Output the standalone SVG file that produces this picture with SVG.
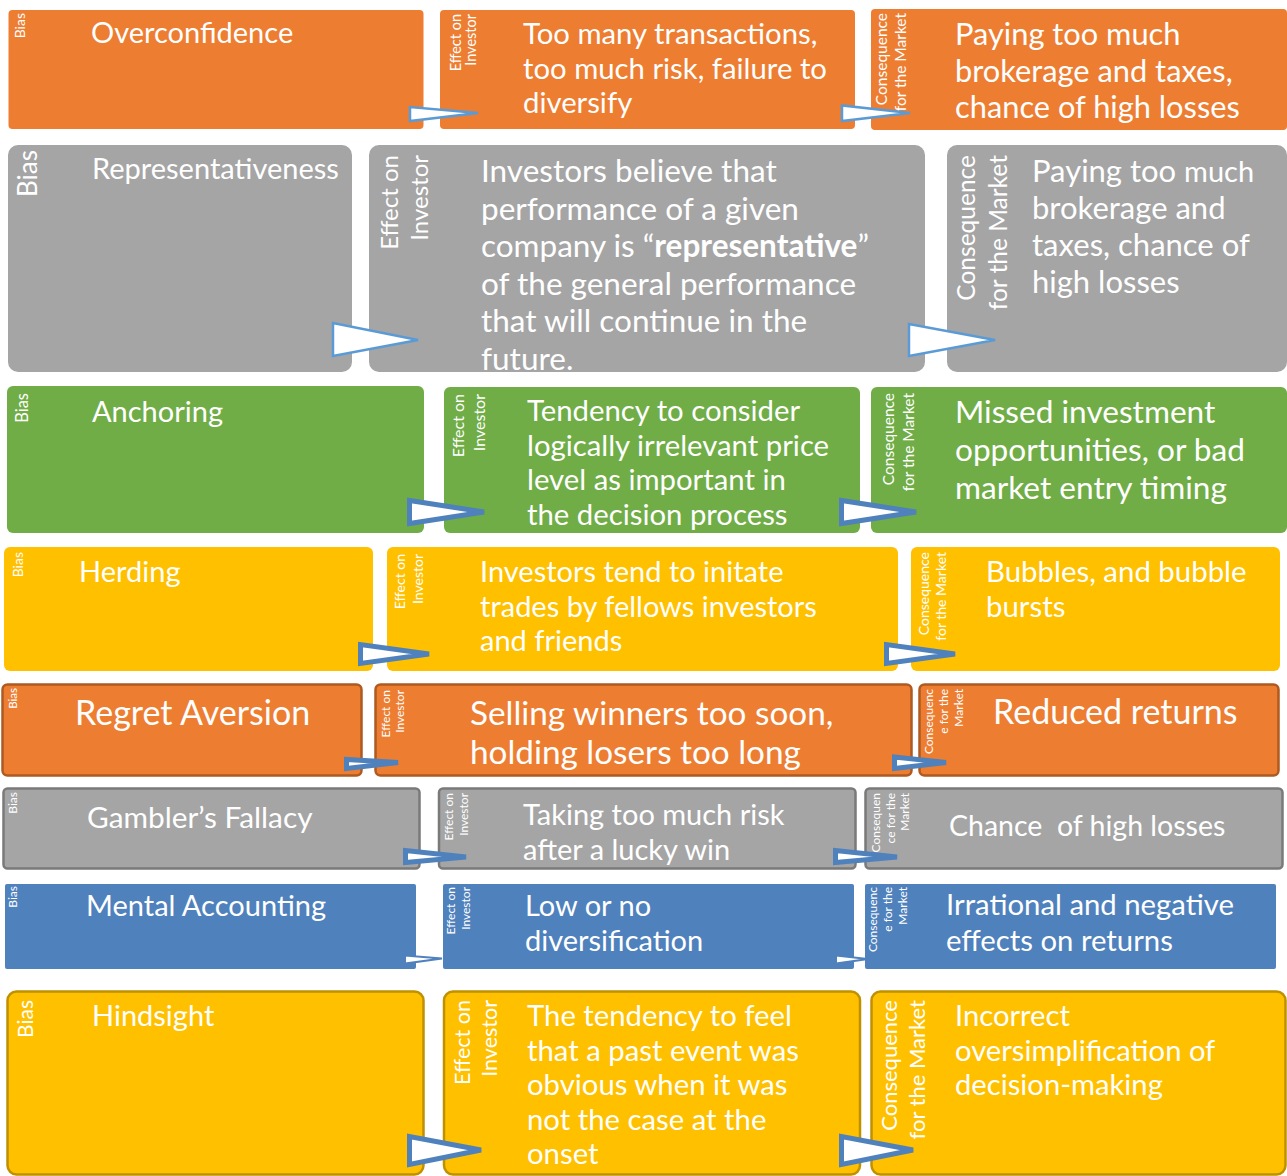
<svg xmlns="http://www.w3.org/2000/svg" width="1287" height="1176" viewBox="0 0 1287 1176">
<style>
  text { font-family: Lato, "Liberation Sans", sans-serif; fill: #ffffff; }
  .v { text-anchor: end; }
  .orange { fill: #ED7D31; }
  .grey { fill: #A5A5A5; }
  .green { fill: #70AD47; }
  .gold { fill: #FFC000; }
  .blue { fill: #4F81BD; }
  .b-orange { stroke: #AE5A21; stroke-width: 2.5; }
  .b-grey { stroke: #7A7A7A; stroke-width: 2.5; }
  .b-gold { stroke: #BF9000; stroke-width: 2.5; }
  .arr { fill: #ffffff; stroke-linejoin: miter; }
  .a1 { stroke: #5B9BD5; stroke-width: 2.5; }
  .a2 { stroke: #4F81BD; stroke-width: 5; }
  .a3 { stroke: #4F81BD; stroke-width: 2; }
</style>
<rect width="1287" height="1176" fill="#ffffff"/>

<!-- Row 1: Overconfidence -->
<g id="bias-overconfidence">
  <rect class="orange" x="8.5" y="10" width="415" height="119" rx="4"/>
  <text class="v" font-size="14" transform="translate(25,13) rotate(-90)">Bias</text>
  <text x="91" y="43" font-size="29">Overconfidence</text>
</g>
<g id="effect-overconfidence">
  <rect class="orange" x="440" y="10" width="415" height="119" rx="4"/>
  <text class="v" font-size="14.5" transform="translate(461,14) rotate(-90)"><tspan x="0" y="0">Effect on</tspan><tspan x="0" dy="14.5">Investor</tspan></text>
  <text x="523" y="44" font-size="29.3">Too many transactions,<tspan x="523" dy="34.5">too much risk, failure to</tspan><tspan x="523" dy="34.5">diversify</tspan></text>
</g>
<g id="consequence-overconfidence">
  <rect class="orange" x="871" y="9" width="416" height="121" rx="4"/>
  <text class="v" font-size="15.5" transform="translate(887,13) rotate(-90)"><tspan x="0" y="0">Consequence</tspan><tspan x="0" dy="19">for the Market</tspan></text>
  <text x="955" y="45" font-size="30.8">Paying too much<tspan x="955" dy="36.5">brokerage and taxes,</tspan><tspan x="955" dy="36.5">chance of high losses</tspan></text>
</g>

<!-- Row 2: Representativeness -->
<g id="bias-representativeness">
  <rect class="grey" x="8" y="145" width="344" height="227" rx="10"/>
  <text class="v" font-size="26" transform="translate(37,150) rotate(-90)">Bias</text>
  <text x="92" y="179" font-size="29">Representativeness</text>
</g>
<g id="effect-representativeness">
  <rect class="grey" x="369" y="145" width="556" height="227" rx="10"/>
  <text class="v" font-size="24" transform="translate(398,155) rotate(-90)"><tspan x="0" y="0">Effect on</tspan><tspan x="0" dy="30">Investor</tspan></text>
  <text x="481" y="182" font-size="31.5">Investors believe that<tspan x="481" dy="37.5">performance of a given</tspan><tspan x="481" dy="37.5">company is “<tspan font-weight="bold">representative</tspan>”</tspan><tspan x="481" dy="37.5">of the general performance</tspan><tspan x="481" dy="37.5">that will continue in the</tspan><tspan x="481" dy="37.5">future.</tspan></text>
</g>
<g id="consequence-representativeness">
  <rect class="grey" x="947" y="145" width="340" height="227" rx="10"/>
  <text class="v" font-size="24.5" transform="translate(975,155) rotate(-90)"><tspan x="0" y="0">Consequence</tspan><tspan x="0" dy="32">for the Market</tspan></text>
  <text x="1032" y="182" font-size="31">Paying too <tspan font-size="29">much</tspan><tspan x="1032" dy="37">brokerage and</tspan><tspan x="1032" dy="37">taxes, chance of</tspan><tspan x="1032" dy="37">high losses</tspan></text>
</g>

<!-- Row 3: Anchoring -->
<g id="bias-anchoring">
  <rect class="green" x="7" y="386" width="417" height="147" rx="6"/>
  <text class="v" font-size="16.5" transform="translate(28,393) rotate(-90)">Bias</text>
  <text x="92" y="422" font-size="29">Anchoring</text>
</g>
<g id="effect-anchoring">
  <rect class="green" x="444" y="387" width="416" height="146" rx="6"/>
  <text class="v" font-size="16" transform="translate(464,394) rotate(-90)"><tspan x="0" y="0">Effect on</tspan><tspan x="0" dy="21">Investor</tspan></text>
  <text x="527" y="421" font-size="29.3">Tendency to consider<tspan x="527" dy="34.7">logically irrelevant price</tspan><tspan x="527" dy="34.7">level as important in</tspan><tspan x="527" dy="34.7">the decision process</tspan></text>
</g>
<g id="consequence-anchoring">
  <rect class="green" x="871" y="387" width="416" height="146" rx="6"/>
  <text class="v" font-size="15.5" transform="translate(894,393) rotate(-90)"><tspan x="0" y="0">Consequence</tspan><tspan x="0" dy="20">for the Market</tspan></text>
  <text x="955" y="423" font-size="31.6">Missed investment<tspan x="955" dy="38">opportunities, or bad</tspan><tspan x="955" dy="38">market entry timing</tspan></text>
</g>

<!-- Row 4: Herding -->
<g id="bias-herding">
  <rect class="gold" x="4" y="547" width="369" height="124" rx="6"/>
  <text class="v" font-size="14" transform="translate(23,552) rotate(-90)">Bias</text>
  <text x="79" y="582" font-size="29">Herding</text>
</g>
<g id="effect-herding">
  <rect class="gold" x="387" y="547" width="511" height="124" rx="6"/>
  <text class="v" font-size="14" transform="translate(405,554) rotate(-90)"><tspan x="0" y="0">Effect on</tspan><tspan x="0" dy="18">Investor</tspan></text>
  <text x="480" y="582" font-size="29">Investors tend to initate<tspan x="480" dy="34.5">trades by fellows investors</tspan><tspan x="480" dy="34.5">and friends</tspan></text>
</g>
<g id="consequence-herding">
  <rect class="gold" x="911" y="547" width="369" height="124" rx="6"/>
  <text class="v" font-size="14" transform="translate(929,552) rotate(-90)"><tspan x="0" y="0">Consequence</tspan><tspan x="0" dy="17">for the Market</tspan></text>
  <text x="986" y="582" font-size="29.4">Bubbles, and bubble<tspan x="986" dy="34.5">bursts</tspan></text>
</g>

<!-- Row 5: Regret Aversion -->
<g id="bias-regret-aversion">
  <rect class="orange b-orange" x="2.5" y="684.5" width="359" height="91" rx="5"/>
  <text class="v" font-size="11.5" transform="translate(17,688) rotate(-90)">Bias</text>
  <text x="75" y="725" font-size="34">Regret Aversion</text>
</g>
<g id="effect-regret-aversion">
  <rect class="orange b-orange" x="375.5" y="684.5" width="536" height="91" rx="5"/>
  <text class="v" font-size="12" transform="translate(390,690) rotate(-90)"><tspan x="0" y="0">Effect on</tspan><tspan x="0" dy="14">Investor</tspan></text>
  <text x="470" y="725" font-size="33.3">Selling winners too soon,<tspan x="470" dy="39">holding losers too long</tspan></text>
</g>
<g id="consequence-regret-aversion">
  <rect class="orange b-orange" x="919.5" y="684.5" width="359" height="91" rx="5"/>
  <text class="v" font-size="12" transform="translate(933,689) rotate(-90)"><tspan x="0" y="0">Consequenc</tspan><tspan x="0" dy="15">e for the</tspan><tspan x="0" dy="15">Market</tspan></text>
  <text x="993" y="724" font-size="34">Reduced returns</text>
</g>

<!-- Row 6: Gambler's Fallacy -->
<g id="bias-gamblers-fallacy">
  <rect class="grey b-grey" x="3.5" y="788.5" width="416" height="80" rx="4"/>
  <text class="v" font-size="12" transform="translate(17,792) rotate(-90)">Bias</text>
  <text x="87" y="828" font-size="29.8">Gambler’s Fallacy</text>
</g>
<g id="effect-gamblers-fallacy">
  <rect class="grey b-grey" x="439" y="788.5" width="416.5" height="80" rx="4"/>
  <text class="v" font-size="12" transform="translate(453,793) rotate(-90)"><tspan x="0" y="0">Effect on</tspan><tspan x="0" dy="15">Investor</tspan></text>
  <text x="523" y="825" font-size="29">Taking too much risk<tspan x="523" dy="35">after a lucky win</tspan></text>
</g>
<g id="consequence-gamblers-fallacy">
  <rect class="grey b-grey" x="865.5" y="788.5" width="417" height="80" rx="4"/>
  <text class="v" font-size="12" transform="translate(880,793) rotate(-90)"><tspan x="0" y="0">Consequen</tspan><tspan x="0" dy="14.5">ce for the</tspan><tspan x="0" dy="14.5">Market</tspan></text>
  <text x="949" y="836" font-size="28.5" xml:space="preserve">Chance  of high losses</text>
</g>

<!-- Row 7: Mental Accounting -->
<g id="bias-mental-accounting">
  <rect class="blue" x="5" y="884" width="411" height="85" rx="2"/>
  <text class="v" font-size="12" transform="translate(17,886) rotate(-90)">Bias</text>
  <text x="86" y="916" font-size="29">Mental Accounting</text>
</g>
<g id="effect-mental-accounting">
  <rect class="blue" x="443" y="884" width="411" height="85" rx="2"/>
  <text class="v" font-size="12" transform="translate(455,887) rotate(-90)"><tspan x="0" y="0">Effect on</tspan><tspan x="0" dy="15">Investor</tspan></text>
  <text x="525" y="916" font-size="29">Low or no<tspan x="525" dy="35">diversification</tspan></text>
</g>
<g id="consequence-mental-accounting">
  <rect class="blue" x="865" y="884" width="411" height="85" rx="2"/>
  <text class="v" font-size="12" transform="translate(877,887) rotate(-90)"><tspan x="0" y="0">Consequenc</tspan><tspan x="0" dy="15">e for the</tspan><tspan x="0" dy="15">Market</tspan></text>
  <text x="946" y="915" font-size="29.3">Irrational and negative<tspan x="946" dy="36">effects on returns</tspan></text>
</g>

<!-- Row 8: Hindsight -->
<g id="bias-hindsight">
  <rect class="gold b-gold" x="7.5" y="991.5" width="416" height="183" rx="9"/>
  <text class="v" font-size="21" transform="translate(33,1000) rotate(-90)">Bias</text>
  <text x="92" y="1026" font-size="29">Hindsight</text>
</g>
<g id="effect-hindsight">
  <rect class="gold b-gold" x="444" y="991.5" width="416" height="183" rx="9"/>
  <text class="v" font-size="21.5" transform="translate(470,1000) rotate(-90)"><tspan x="0" y="0">Effect on</tspan><tspan x="0" dy="27">Investor</tspan></text>
  <text x="527" y="1026" font-size="29.3">The tendency to feel<tspan x="527" dy="34.5">that a past event was</tspan><tspan x="527" dy="34.5">obvious when it was</tspan><tspan x="527" dy="34.5">not the case at the</tspan><tspan x="527" dy="34.5">onset</tspan></text>
</g>
<g id="consequence-hindsight">
  <rect class="gold b-gold" x="871.5" y="991.5" width="414" height="183" rx="9"/>
  <text class="v" font-size="22" transform="translate(897,1000) rotate(-90)"><tspan x="0" y="0">Consequence</tspan><tspan x="0" dy="28">for the Market</tspan></text>
  <text x="955" y="1026" font-size="29.2">Incorrect<tspan x="955" dy="34.5">oversimplification of</tspan><tspan x="955" dy="34.5">decision-making</tspan></text>
</g>

<!-- Connectors: arrowheads linking bias → effect → consequence -->
<g id="connectors">
  <polygon class="arr a1" points="410,107 410,121 478,113"/>
  <polygon class="arr a1" points="842,105.5 842,121 910,113"/>
  <polygon class="arr a1" points="333,323 333,356 418,340"/>
  <polygon class="arr a1" points="909,324 909,356 995,340"/>
  <polygon class="arr a2" points="409.5,500.5 409.5,523.5 484,512"/>
  <polygon class="arr a2" points="841.5,500.5 841.5,523.5 916,512"/>
  <polygon class="arr a2" points="360.5,644.5 360.5,663.5 429,654"/>
  <polygon class="arr a2" points="886.5,644.5 886.5,663.5 955,654"/>
  <polygon class="arr a2" points="346.5,759.5 346.5,768.5 398,762.5"/>
  <polygon class="arr a2" points="894.5,757 894.5,768.5 946,762.5"/>
  <polygon class="arr a2" points="405.5,850.5 405.5,862.5 466,857"/>
  <polygon class="arr a2" points="835.5,850.5 835.5,862.5 897,857"/>
  <polygon class="arr a3" points="405,955.5 405,963.5 442,958.5"/>
  <polygon class="arr a3" points="836,955.5 836,963.5 868,959"/>
  <polygon class="arr a2" points="409.5,1136.5 409.5,1164.5 481,1150"/>
  <polygon class="arr a2" points="841.5,1136.5 841.5,1164.5 913,1150"/>
</g>
</svg>
